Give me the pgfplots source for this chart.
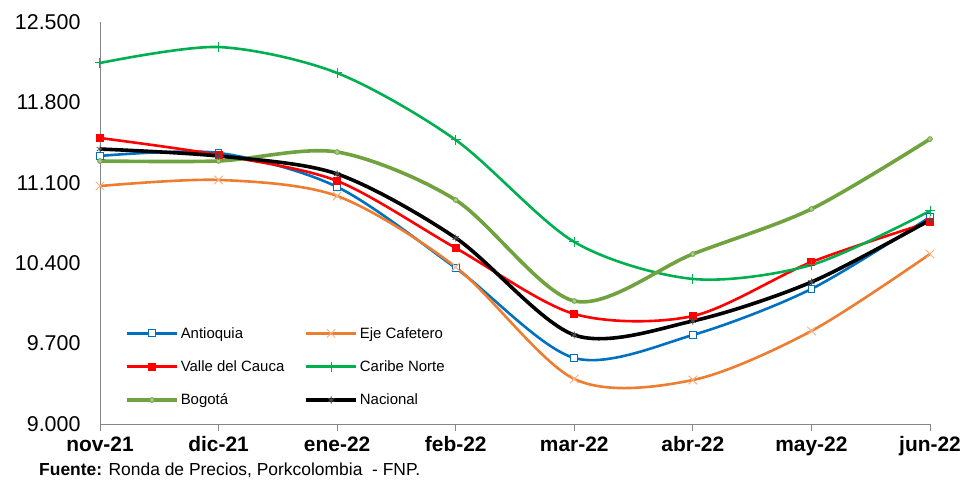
\documentclass[border=0pt]{standalone}
\usepackage{pgfplots}
\pgfplotsset{compat=1.18}
\usepackage{fontspec}
\setmainfont{Liberation Sans}
\definecolor{cblue}{RGB}{0,112,192}
\definecolor{corange}{RGB}{237,125,49}
\definecolor{corangel}{RGB}{244,177,131}
\definecolor{cred}{RGB}{255,0,0}
\definecolor{cgreen}{RGB}{0,176,80}
\definecolor{colive}{RGB}{112,163,64}
\definecolor{caxis}{RGB}{134,134,134}
\begin{document}
\begin{tikzpicture}
\useasboundingbox (-100bp,-56bp) rectangle (868bp,424bp);
\begin{axis}[
  at={(0,0)}, anchor=south west,
  scale only axis, width=830bp, height=402bp,
  xmin=0, xmax=7, ymin=9000, ymax=12500,
  clip=false,
  axis x line*=bottom, axis y line*=left,
  axis line style={caxis, line width=0.8bp, -},
  xtick={0,1,2,3,4,5,6,7},
  xticklabels={nov-21,dic-21,ene-22,feb-22,mar-22,abr-22,may-22,jun-22},
  x tick label style={font=\fontsize{21}{24}\selectfont\bfseries, yshift=-2bp},
  xtick style={caxis, line width=0.8bp},
  tick align=outside, major tick length=7bp,
  ytick={9000,9700,10400,11100,11800,12500},
  scaled y ticks=false,
  ytick style={draw=none},
  y tick label style={font=\fontsize{21.5}{24}\selectfont, xshift=-9bp},
  yticklabel={\pgfmathprintnumber[fixed,1000 sep={.},assume math mode=true]{\tick}},
  every axis plot/.append style={smooth, tension=0.5},
  legend columns=2,
  legend cell align=left,
  legend style={at={(22bp,101bp)}, anchor=north west, draw=none, fill=none,
    font=\fontsize{15}{18}\selectfont, row sep=17bp,
    /tikz/every even column/.append style={column sep=18bp}},
  legend image code/.code={%
    \draw[#1, mark repeat=2, mark phase=2] plot[sharp plot] coordinates {(0bp,0bp) (25bp,0bp) (50bp,0bp)};},
]
\addplot[cblue, line width=2.6bp, mark=square*, mark options={fill=white, draw=cblue, line width=1bp, scale=1.7}]
coordinates {(0,11334) (1,11360) (2,11064) (3,10358) (4,9575) (5,9775) (6,10176) (7,10802)};
\addlegendentry{Antioquia}
\addplot[corange, line width=2.6bp, mark=x, mark options={draw=corangel, line width=1bp, scale=3}]
coordinates {(0,11072) (1,11125) (2,10985) (3,10367) (4,9392) (5,9383) (6,9810) (7,10480)};
\addlegendentry{Eje Cafetero}
\addplot[cred, line width=2.6bp, mark=square*, mark options={fill=cred, draw=cred, scale=1.35}]
coordinates {(0,11490) (1,11342) (2,11116) (3,10532) (4,9958) (5,9940) (6,10410) (7,10759)};
\addlegendentry{Valle del Cauca}
\addplot[cgreen, line width=2.6bp, mark=+, mark options={draw=cgreen, line width=1bp, scale=2.5}]
coordinates {(0,12143) (1,12282) (2,12056) (3,11473) (4,10585) (5,10263) (6,10385) (7,10855)};
\addlegendentry{Caribe Norte}
\addplot[colive, line width=3.6bp, mark=*, mark options={fill=colive!60!white, draw=colive, line width=0.8bp, scale=1.2}]
coordinates {(0,11290) (1,11290) (2,11368) (3,10950) (4,10071) (5,10480) (6,10872) (7,11481)};
\addlegendentry{Bogotá}
\addplot[black, line width=3.6bp, mark=asterisk, mark options={draw=black!70, line width=0.8bp, scale=1.8}]
coordinates {(0,11394) (1,11333) (2,11177) (3,10620) (4,9775) (5,9897) (6,10236) (7,10776)};
\addlegendentry{Nacional}
\end{axis}
\node[anchor=base west, font=\fontsize{17.5}{20}\selectfont, inner sep=0pt] at (-61bp,-51bp) {\textbf{Fuente:} Ronda de Precios, Porkcolombia \ - FNP.};
\end{tikzpicture}
\end{document}
